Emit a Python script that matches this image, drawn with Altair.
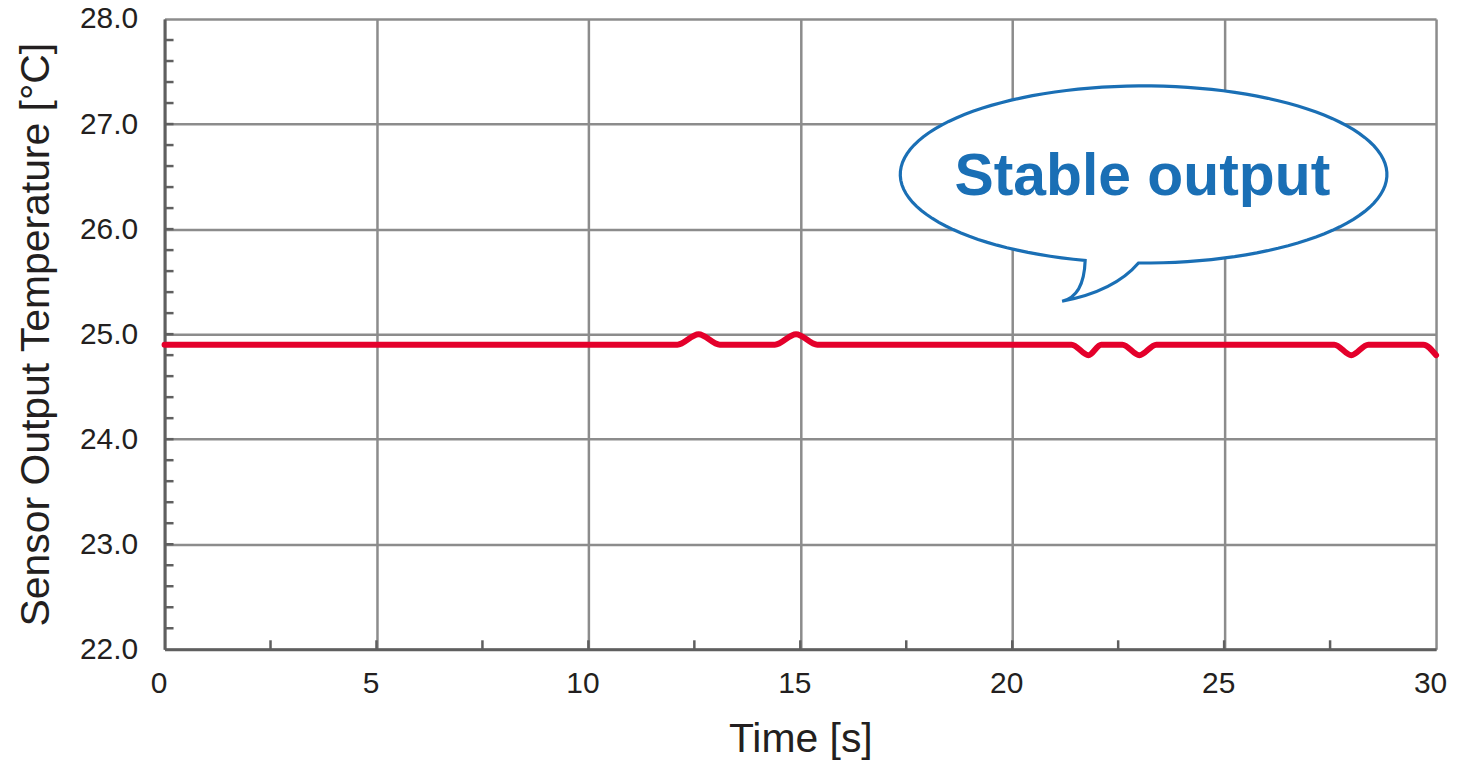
import math
import altair as alt
import pandas as pd

# ---- data ----
time_s = [0.0, 12.1, 12.6, 13.1, 14.4, 14.9, 15.4, 21.4, 21.8, 22.1,
          22.6, 23.0, 23.4, 27.6, 28.0, 28.4, 29.7, 30.0]
temp_c = [24.9, 24.9, 25.0, 24.9, 24.9, 25.0, 24.9, 24.9, 24.8, 24.9,
          24.9, 24.8, 24.9, 24.9, 24.8, 24.9, 24.9, 24.8]

x_ticks = [0, 5, 10, 15, 20, 25, 30]
y_ticks = [22.0, 23.0, 24.0, 25.0, 26.0, 27.0, 28.0]
x_minor = [2.5, 5, 7.5, 10, 12.5, 15, 17.5, 20, 22.5, 25, 27.5]
y_minor = [22.2, 22.4, 22.6, 22.8, 23.0, 23.2, 23.4, 23.6, 23.8, 24.0,
           24.2, 24.4, 24.6, 24.8, 25.0, 25.2, 25.4, 25.6, 25.8, 26.0,
           26.2, 26.4, 26.6, 26.8, 27.0, 27.2, 27.4, 27.6, 27.8]

note_text = ["Stable output"]

W, H = 1275, 632
FONT = "Liberation Sans"
TXT = "#231f20"
GRID = "#8c8c8c"
DOMAIN = "#5f5f5f"
RED = "#e4002b"
BLUE = "#1a6fb5"

df = pd.DataFrame({"t": time_s, "T": temp_c})
df_xm = pd.DataFrame({"t": x_minor})
df_ym = pd.DataFrame({"T": y_minor})

xscale = alt.Scale(domain=[0, 30], nice=False, zero=False)
yscale = alt.Scale(domain=[22, 28], nice=False, zero=False)

xaxis = alt.Axis(values=x_ticks, title="Time [s]", grid=True, ticks=False,
                 labelFontSize=30, labelPadding=19, labelOffset=-6, labelFlush=False,
                 titleFontSize=41, titleFontWeight="normal", titlePadding=22, format="d")
yaxis = alt.Axis(values=y_ticks, title="Sensor Output Temperature [°C]", grid=True,
                 ticks=False, labelFontSize=30, labelPadding=27, labelFlush=False,
                 titleFontSize=41, titleFontWeight="normal", titlePadding=22, format=".1f")

line = alt.Chart(df).mark_line(color=RED, strokeWidth=6, interpolate="monotone",
                               strokeJoin="round", strokeCap="round").encode(
    x=alt.X("t:Q", scale=xscale, axis=xaxis),
    y=alt.Y("T:Q", scale=yscale, axis=yaxis),
)

yt = alt.Chart(df_ym).mark_rule(color=DOMAIN, strokeWidth=2.5).encode(
    y=alt.Y("T:Q", scale=yscale), x=alt.value(0), x2=alt.value(9))
xt = alt.Chart(df_xm).mark_rule(color=DOMAIN, strokeWidth=2.5).encode(
    x=alt.X("t:Q", scale=xscale), y=alt.value(H), y2=alt.value(H - 9))

# speech-bubble outline (unit shape, scaled by size)
k = 0.364
pts = []
a0, a1 = 91.2, -256.1
n = 120
for i in range(n + 1):
    a = math.radians(a0 + (a1 - a0) * i / n)
    pts.append((math.cos(a), k * math.sin(a)))
path = "M%.4f,%.4f " % pts[0] + " ".join("L%.4f,%.4f" % p for p in pts[1:])
path += " Q-0.245,0.50 -0.335,0.521 Q-0.12,0.48 -0.021,0.364 Z"

bubble = alt.Chart(pd.DataFrame({"a": [0]})).mark_point(
    shape=path, size=488 ** 2, filled=True, fill="white", stroke=BLUE,
    strokeWidth=3.2, opacity=1).encode(
    x=alt.datum(23.1, scale=xscale), y=alt.datum(26.52, scale=yscale))

note = alt.Chart(pd.DataFrame({"txt": note_text})).mark_text(
    font=FONT, fontSize=59, fontWeight="bold", color=BLUE, align="center",
    baseline="alphabetic").encode(
    text="txt:N", x=alt.datum(23.07, scale=xscale), y=alt.datum(26.32, scale=yscale))

chart = alt.layer(line, yt, xt, bubble, note).properties(
    width=W, height=H,
    autosize=alt.AutoSizeParams(type="none"),
    padding={"left": 157, "top": 10, "right": 15, "bottom": 110},
).configure_axis(
    labelFont=FONT, titleFont=FONT, labelColor=TXT, titleColor=TXT,
    gridColor=GRID, gridWidth=2.5, gridOpacity=1,
    domainColor=DOMAIN, domainWidth=3,
).configure_view(strokeWidth=0)

chart.save("out.html", embed_options={"renderer": "svg", "actions": False})
